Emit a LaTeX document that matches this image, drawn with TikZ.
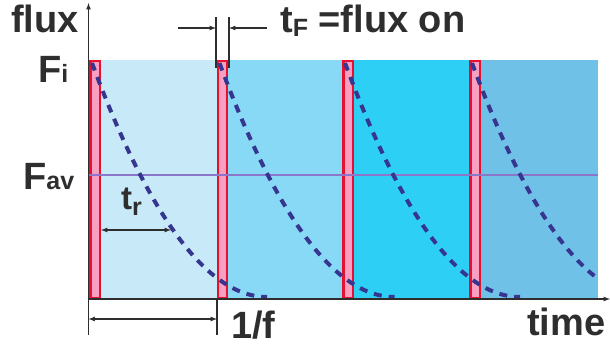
\documentclass[tikz,border=0pt]{standalone}
\usepackage{fontspec}
\setmainfont{Liberation Sans}

\definecolor{txtgray}{HTML}{2E2E2E}
\definecolor{panelA}{HTML}{C8EAF8}
\definecolor{panelB}{HTML}{88D9F5}
\definecolor{panelC}{HTML}{2ECFF4}
\definecolor{panelD}{HTML}{70C1E7}
\definecolor{pulsered}{HTML}{E8102F}
\definecolor{pulsepink}{HTML}{F9A0C2}
\definecolor{decayblue}{HTML}{363590}
\definecolor{avgline}{HTML}{8C76CA}

\newcommand{\lo}[1]{{\fontsize{25}{25}\selectfont #1}}

\begin{document}
\begin{tikzpicture}[
  x=1pt,y=-1pt,
  font=\fontsize{38}{40}\selectfont\bfseries,
  lbl/.style={inner sep=0pt,anchor=base west,text=txtgray},
  pulse/.style={draw=pulsered,fill=pulsepink,line width=2.4pt},
  decay/.style={decayblue,line width=4pt,dash pattern=on 8pt off 7pt},
  avg/.style={avgline,line width=2pt},
  axis/.style={->,>=latex,txtgray,line width=1.2pt},
  dim/.style={txtgray,line width=1.2pt},
  dimarrow/.style={dim,->,>=latex},
]
\useasboundingbox (0,0) rectangle (610,347);

% ---- Panels (one per period)
\fill[panelA] (89,60) rectangle (217,299);
\fill[panelB] (217,60) rectangle (343,299);
\fill[panelC] (343,60) rectangle (470,299);
\fill[panelD] (470,60) rectangle (598,299);

% ---- Flux pulses
\draw[pulse] (90.3,61) rectangle (99.7,298);
\draw[pulse] (217.8,61) rectangle (227.2,298);
\draw[pulse] (343.3,61) rectangle (352.7,298);
\draw[pulse] (470.3,61) rectangle (479.7,298);

% ---- Average flux
\coordinate (avL) at (89,175);
\coordinate (avR) at (598,175);
\draw[avg] (avL) -- (avR);

% ---- Decay curves after each pulse
\begin{scope}
  \clip (89,40) rectangle (598,310);
  \foreach \s in {92,219.5,345,472}
    \draw[decay] (\s,63) .. controls (\s+58,220) and (\s+117,297) .. (\s+175,297);
\end{scope}

% ---- Axes
\coordinate (O) at (88.5,299);
\coordinate (yB) at (88.5,335);
\coordinate (yT) at (88.5,3);
\coordinate (xR) at (610,299);
\draw[dim] (yB) -- (O);
\draw[axis] (O) -- (yT);
\draw[axis] (O) -- (xR);

% ---- Labels
\node[lbl] (flux) at (11,33) {flux};
\node[lbl] (Fi) at (38,83) {F\lo{i}};
\node[lbl] (Fav) at (23,190) {F\lo{av}};
\node[lbl,font=\fontsize{33}{35}\selectfont\bfseries] (tr) at (121,210) {t\raisebox{-6pt}{\lo{r}}};
\node[lbl] (tF) at (280,33) {t\raisebox{-4pt}{\lo{F}} =flux on};
\node[lbl] (inv) at (231,338) {1/f};
\node[lbl] (time) at (527,335) {time};

% ---- t_F dimension
\coordinate (fLb) at (216,68);
\coordinate (fLt) at (216,17);
\coordinate (fRb) at (229,68);
\coordinate (fRt) at (229,17);
\coordinate (fLa) at (178,28);
\coordinate (fLe) at (216,28);
\coordinate (fRa) at (267,28);
\coordinate (fRe) at (229,28);
\draw[dim] (fLb) -- (fLt);
\draw[dim] (fRb) -- (fRt);
\draw[dimarrow] (fLa) -- (fLe);
\draw[dimarrow] (fRa) -- (fRe);

% ---- t_r dimension
\coordinate (rL) at (101,230);
\coordinate (rR) at (171,230);
\draw[dimarrow,<->] (rL) -- (rR);

% ---- 1/f dimension
\coordinate (pT) at (217,300);
\coordinate (pB) at (217,335);
\coordinate (pL) at (88.5,319);
\coordinate (pR) at (217,319);
\draw[dim] (pT) -- (pB);
\draw[dimarrow,<->] (pL) -- (pR);

\end{tikzpicture}
\end{document}
